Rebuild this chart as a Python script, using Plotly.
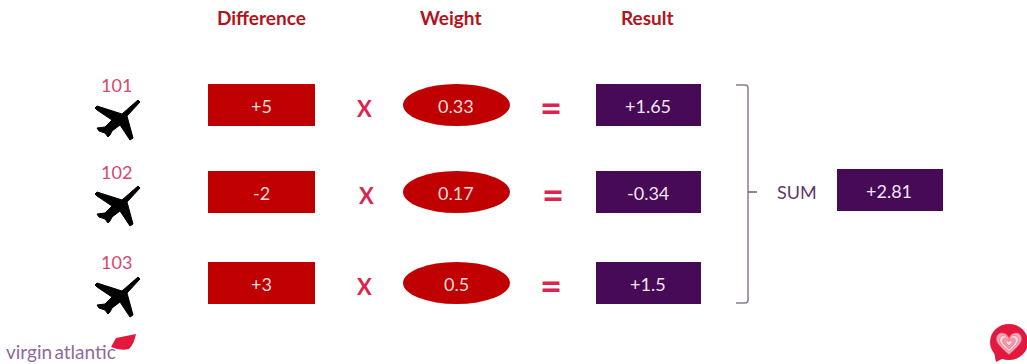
import plotly.graph_objects as go

# Worked example: per-flight difference x weight = result, then the sum
flights = ["101", "102", "103"]
differences = [5, -2, 3]
weights = [0.33, 0.17, 0.5]
results = [1.65, -0.34, 1.5]
total = 2.81
headers = ["Difference", "Weight", "Result"]

RED = "#c00000"
PURPLE = "#470a56"
PINK = "#d9476f"
FONT = "Lato"

# Vertical layout of the three rows (tops of the boxes)
row_tops = [84, 171, 262]
row_h = 42
plane_centres = [(118, 120), (118, 206), (118, 297)]
flight_label_pos = [(116, 85), (116, 172), (116, 262)]
op_x = [(364, 551), (366, 553), (364, 551)]

# Aeroplane outline, as offsets from its centre
PLANE = [(20, -20), (22, -18), (9, -4), (15, 18), (12, 20), (2, 5), (-6, 11), (-8, 15), (-10, 17),
         (-13, 13), (-19, 11), (-21, 8), (-13, 7), (-6, 0), (-21, -10), (-23, -12), (-21, -14),
         (4, -6)]


def path_from(points, dx=0, dy=0):
    return "M" + " L".join(f"{x + dx},{y + dy}" for x, y in points) + " Z"


shapes = []
annotations = []


def label(x, y, text, color="white", size=13, bold=False, family=FONT):
    shown = f"<b>{text}</b>" if bold else text
    annotations.append(dict(x=x, y=y, text=shown, showarrow=False, xref="x", yref="y",
                            xanchor="center", yanchor="middle",
                            font=dict(family=family, size=size, color=color)))


def rect(x0, y0, x1, y1, color):
    shapes.append(dict(type="rect", x0=x0, y0=y0, x1=x1, y1=y1, xref="x", yref="y",
                       fillcolor=color, line=dict(width=0), layer="below"))


for x, text in zip([261.5, 450, 647.5], headers):
    label(x, 17, text, color="#b3141c", size=19, bold=True)

for i, top in enumerate(row_tops):
    mid = top + row_h / 2
    lx, ly = flight_label_pos[i]
    label(lx, ly, flights[i], color=PINK, size=18)

    cx, cy = plane_centres[i]
    shapes.append(dict(type="path", path=path_from(PLANE, cx, cy), xref="x", yref="y",
                       fillcolor="black", line=dict(color="black", width=1)))

    rect(208, top, 315, top + row_h, RED)
    label(261, mid + 1, f"{differences[i]:+d}", color="#f7dcdc", size=18)

    shapes.append(dict(type="circle", x0=403, x1=510, y0=top, y1=top + row_h, xref="x", yref="y",
                       fillcolor=RED, line=dict(width=0), layer="below"))
    label(456, mid + 1, f"{weights[i]:g}", color="#f7dcdc", size=18)

    rect(596, top, 701, top + row_h, PURPLE)
    label(648, mid + 1, f"{results[i]:+g}", color="#f0e4f0", size=18)

    times_x, equals_x = op_x[i]
    label(times_x, mid + 3, "X", color="#e0234e", size=22, bold=True)
    label(equals_x, mid + 2, "=", color="#e0234e", size=38, bold=True)

# Bracket collecting the three results
shapes.append(dict(type="path", path="M736,85 L745,85 Q748,85 748,88 L748,300 Q748,303 745,303 L736,303",
                   xref="x", yref="y", line=dict(color="#8c7a90", width=1.5)))
shapes.append(dict(type="line", x0=748, x1=757, y0=192, y1=192, xref="x", yref="y",
                   line=dict(color="#6d5a72", width=1.5)))
label(797, 192, "SUM", color="#5d3a6b", size=18)
rect(837, 169, 943, 211, PURPLE)
label(889, 191, f"{total:+g}", color="#f0e4f0", size=18)

# Brand mark, lower left
label(61, 351, "virgin\u2009atlantic", color="#8e6aa0", size=19)
shapes.append(dict(type="path", path="M116,338 L136,334 Q134,344 129,349 Q120,351 111,347 Z", xref="x", yref="y",
                   fillcolor="#e2183c", line=dict(width=0)))

# Speech bubble with a heart, lower right
shapes.append(dict(type="circle", x0=990, x1=1028, y0=324, y1=360, xref="x", yref="y",
                   fillcolor="#e2183c", line=dict(width=0)))
shapes.append(dict(type="path", path="M994,352 L996,362 L1004,358 Z", xref="x", yref="y",
                   fillcolor="#e2183c", line=dict(width=0)))
for scale, colour in [(1.0, "#f2a8b6"), (0.75, "#f8d4da"), (0.5, "#eb9dae"), (0.25, "#f8d4da")]:
    w, h = 12.5 * scale, 13.5 * scale
    cx, cy = 1009, 343
    heart = (f"M{cx},{cy + h * 0.85} C{cx - w * 0.6},{cy + h * 0.35} {cx - w * 1.05},{cy} {cx - w},{cy - h * 0.35} "
             f"C{cx - w * 0.95},{cy - h * 0.9} {cx - w * 0.2},{cy - h * 0.85} {cx},{cy - h * 0.35} "
             f"C{cx + w * 0.2},{cy - h * 0.85} {cx + w * 0.95},{cy - h * 0.9} {cx + w},{cy - h * 0.35} "
             f"C{cx + w * 1.05},{cy} {cx + w * 0.6},{cy + h * 0.35} {cx},{cy + h * 0.85} Z")
    shapes.append(dict(type="path", path=heart, xref="x", yref="y", fillcolor=colour,
                       line=dict(color="#e8637f", width=0.6)))

fig = go.Figure()
fig.update_layout(
    width=1027, height=364, margin=dict(l=0, r=0, t=0, b=0),
    paper_bgcolor="white", plot_bgcolor="white", showlegend=False,
    xaxis=dict(range=[0, 1027], visible=False, fixedrange=True),
    yaxis=dict(range=[364, 0], visible=False, fixedrange=True),
    shapes=shapes, annotations=annotations,
)
fig.write_html("out.html", config=dict(displayModeBar=False))
